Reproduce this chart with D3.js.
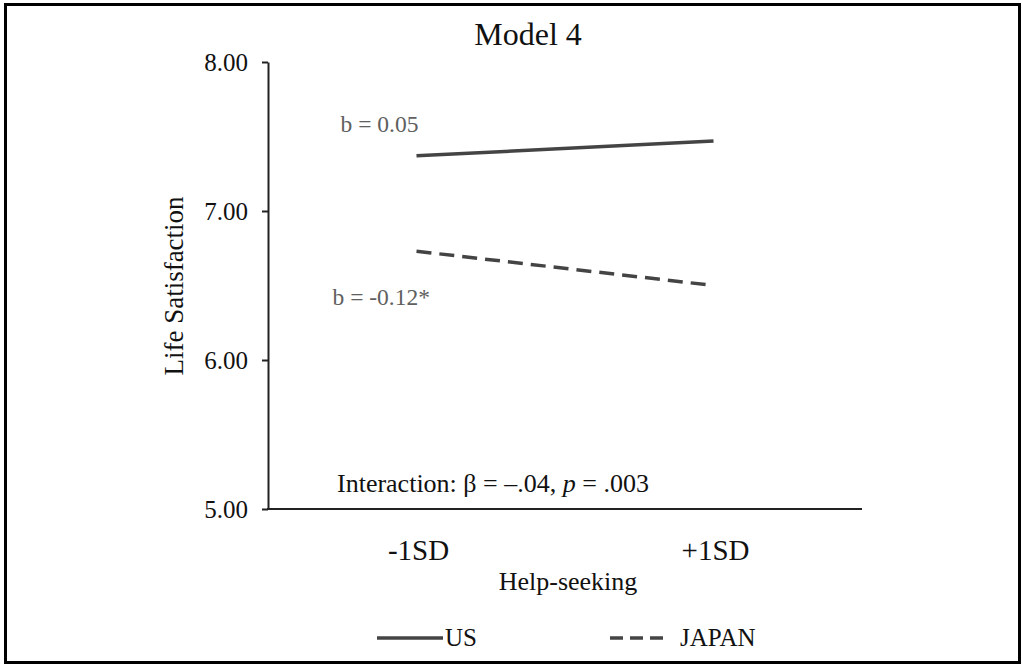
<!DOCTYPE html>
<html>
<head>
<meta charset="utf-8">
<script src="https://cdn.jsdelivr.net/npm/d3@7"></script>
<style>
  body { margin: 0; background: #fff; }
  svg text { font-family: "Liberation Serif", "Times New Roman", serif; }
</style>
</head>
<body>
<svg id="chart" width="1022" height="665"></svg>
<script>
// chart data
var categories = ["-1SD", "+1SD"];
var usValues = [7.37, 7.47];
var japanValues = [6.73, 6.50];
var yTicks = [5, 6, 7, 8];
var seriesNames = ["US", "JAPAN"];
var slopeLabels = ["b = 0.05", "b = -0.12*"];

var svg = d3.select("#chart");

// outer frame
svg.append("rect")
    .attr("x", 5.5)
    .attr("y", 4.5)
    .attr("width", 1014)
    .attr("height", 658)
    .attr("fill", "none")
    .attr("stroke", "#000")
    .attr("stroke-width", 3);

var x = d3.scalePoint()
    .domain(categories)
    .range([268, 862])
    .padding(0.5);

var y = d3.scaleLinear()
    .domain([5, 8])
    .range([509, 62]);

// y axis
var yAxis = svg.append("g")
    .attr("transform", "translate(268,0)")
    .attr("font-family", null)
    .call(d3.axisLeft(y).tickValues(yTicks).tickFormat(d3.format(".2f")).tickSize(6).tickSizeOuter(0));

yAxis.select(".domain").attr("stroke", "#222").attr("stroke-width", 2);
yAxis.selectAll(".tick line").attr("stroke", "#222").attr("stroke-width", 2);
yAxis.selectAll(".tick text")
    .attr("x", -20)
    .attr("dy", "0.35em")
    .style("font-size", "25px")
    .style("fill", "#111");

// x axis line (no ticks)
svg.append("line")
    .attr("x1", 267)
    .attr("x2", 862)
    .attr("y1", y(5))
    .attr("y2", y(5))
    .attr("stroke", "#222")
    .attr("stroke-width", 2);

// category labels
svg.selectAll(".xlabel")
    .data(categories)
    .enter()
    .append("text")
    .attr("class", "xlabel")
    .attr("x", function (d) { return x(d) + 2; })
    .attr("y", 560)
    .attr("text-anchor", "middle")
    .style("font-size", "29px")
    .style("fill", "#111")
    .text(function (d) { return d; });

// titles
svg.append("text")
    .attr("x", 528)
    .attr("y", 45)
    .attr("text-anchor", "middle")
    .style("font-size", "32px")
    .style("fill", "#111")
    .text("Model 4");

svg.append("text")
    .attr("x", 568)
    .attr("y", 590)
    .attr("text-anchor", "middle")
    .style("font-size", "26px")
    .style("fill", "#111")
    .text("Help-seeking");

svg.append("text")
    .attr("transform", "translate(183,286) rotate(-90)")
    .attr("text-anchor", "middle")
    .style("font-size", "27px")
    .style("fill", "#111")
    .text("Life Satisfaction");

// series lines
var line = d3.line()
    .x(function (d, i) { return x(categories[i]); })
    .y(function (d) { return y(d); });

var series = [
    { name: seriesNames[0], values: usValues, dash: null },
    { name: seriesNames[1], values: japanValues, dash: "15,8" }
];

svg.selectAll(".series")
    .data(series)
    .enter()
    .append("path")
    .attr("class", "series")
    .attr("d", function (d) { return line(d.values); })
    .attr("fill", "none")
    .attr("stroke", "#444")
    .attr("stroke-width", 3.5)
    .attr("stroke-dasharray", function (d) { return d.dash; });

// slope labels
var labelOffsets = [{ dx: -76, dy: -24 }, { dx: -84, dy: 54 }];
svg.selectAll(".slope")
    .data(series)
    .enter()
    .append("text")
    .attr("class", "slope")
    .attr("x", function (d, i) { return x(categories[0]) + labelOffsets[i].dx; })
    .attr("y", function (d, i) { return y(d.values[0]) + labelOffsets[i].dy; })
    .style("font-size", "23.5px")
    .style("fill", "#606060")
    .text(function (d, i) { return slopeLabels[i]; });

// interaction note
var note = svg.append("text")
    .attr("x", 337)
    .attr("y", 492)
    .style("font-size", "26px")
    .style("fill", "#111");
note.append("tspan").text("Interaction: \u03b2 = \u2013.04, ");
note.append("tspan").style("font-style", "italic").text("p");
note.append("tspan").text(" = .003");

// legend
var legend = svg.selectAll(".legend")
    .data(series)
    .enter()
    .append("g")
    .attr("class", "legend")
    .attr("transform", function (d, i) { return "translate(" + [377, 610][i] + ",638)"; });

legend.append("line")
    .attr("x1", 0)
    .attr("x2", function (d, i) { return [66, 58][i]; })
    .attr("y1", 0)
    .attr("y2", 0)
    .attr("stroke", "#444")
    .attr("stroke-width", 3.5)
    .attr("stroke-dasharray", function (d) { return d.dash ? "13,7" : null; });

legend.append("text")
    .attr("x", function (d, i) { return [68, 70][i]; })
    .attr("y", 8)
    .style("font-size", "25px")
    .style("fill", "#111")
    .text(function (d) { return d.name; });
</script>
</body>
</html>
